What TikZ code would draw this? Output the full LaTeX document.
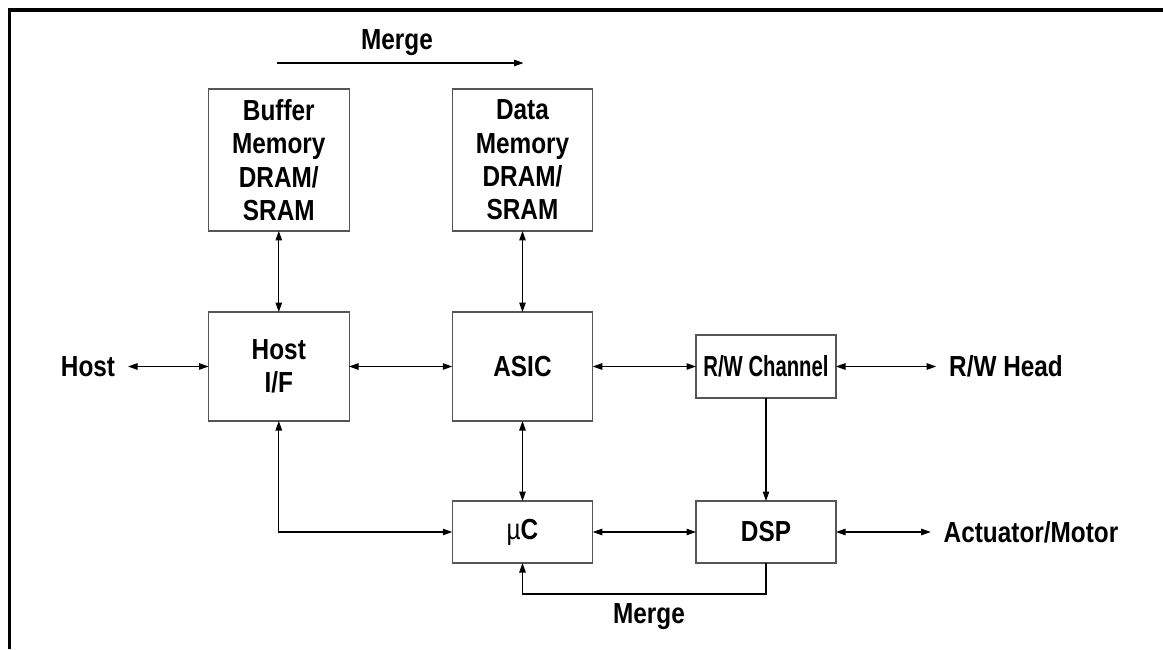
\documentclass[tikz,border=0pt]{standalone}
\usepackage{fontspec}
\setmainfont{Liberation Sans}[FakeStretch=0.84]
\newfontfamily\narrowsans{Liberation Sans}[FakeStretch=0.7]
\usetikzlibrary{positioning,arrows.meta}
\definecolor{boxline}{HTML}{555555}

\begin{document}
\begin{tikzpicture}[x=1cm,y=1cm,
  block/.style={draw=boxline, line width=0.6pt, minimum width=2.81cm, align=center, inner sep=0pt, outer sep=0pt,
    font=\fontsize{16.5}{19}\selectfont\bfseries},
  tag/.style={inner sep=0.26cm, outer sep=0pt, font=\fontsize{16.5}{19}\selectfont\bfseries},
  link/.style={line width=0.6pt, {Triangle[length=0.19cm,width=0.13cm]}-{Triangle[length=0.19cm,width=0.13cm]}},
  flow/.style={line width=0.6pt, -{Triangle[length=0.19cm,width=0.13cm]}}]
\useasboundingbox (0,0) rectangle (23.26,12.98);
\draw[line width=0.075cm] (0.19,0) -- (0.19,12.78) -- (23.26,12.78);
\node[block, minimum height=2.84cm] (buf) at (5.576,9.78) {Buffer\\Memory\\DRAM/\\SRAM};
\node[block, minimum height=2.84cm] (data) at (10.45,9.78) {Data\\Memory\\DRAM/\\SRAM};
\node[block, minimum height=2.18cm] (hif) at (5.576,5.65) {Host\\I/F};
\node[block, minimum height=2.18cm] (asic) at (10.45,5.65) {ASIC};
\node[block, minimum height=1.24cm] (uc) at (10.45,2.34) {{\mdseries µ}C};
\node[block, minimum width=2.80cm, minimum height=1.26cm, font=\fontsize{16.5}{19}\selectfont\narrowsans\bfseries] (rw) at (15.32,5.65) {R/W Channel};
\node[block, minimum width=2.80cm, minimum height=1.24cm] (dsp) at (15.32,2.34) {DSP};
\node[tag] (host) at (1.76,5.65) {Host};
\node[tag] (head) at (20.12,5.65) {R/W Head};
\node[tag] (act) at (20.62,2.34) {Actuator/Motor};
\node[tag] (mtop) at (7.94,12.12) {Merge};
\node[tag] (mbot) at (12.98,0.64) {Merge};
\coordinate (ma) at (5.53,11.72);
\coordinate (mb) at (10.47,11.72);
\draw[flow] (ma) -- (mb);
\draw[link] (buf) -- (hif);
\draw[link] (data) -- (asic);
\draw[link] (host) -- (hif);
\draw[link] (hif) -- (asic);
\draw[link] (asic) -- (rw);
\draw[link] (rw) -- (head);
\draw[link] (asic) -- (uc);
\draw[flow] (rw) -- (dsp);
\draw[link] (uc) -- (dsp);
\draw[link] (dsp) -- (act);
\draw[link] (hif.south) |- (uc.west);
\draw[flow] (dsp.south) -- ++(0,-0.62) -| (uc.south);
\end{tikzpicture}
\end{document}
